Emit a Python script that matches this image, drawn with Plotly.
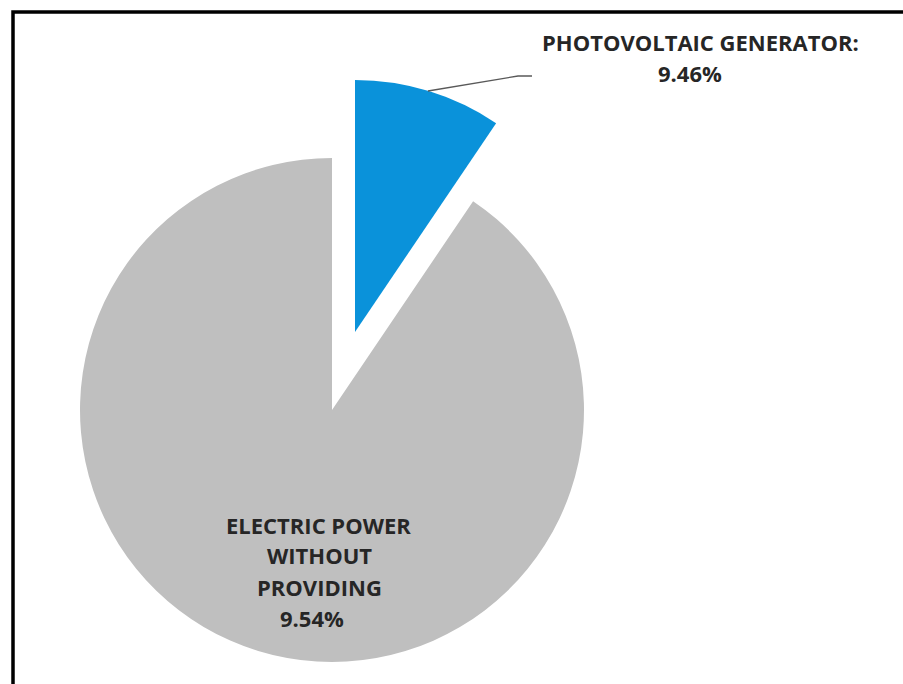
import plotly.graph_objects as go

W, H = 903, 684

labels = ["PHOTOVOLTAIC GENERATOR", "ELECTRIC POWER WITHOUT PROVIDING"]
values = [9.46, 90.54]
shown_pct = ["9.46%", "9.54%"]
colors = ["#0A92DA", "#BFBFBF"]

def px(x):
    return x / W

def py(y):
    return 1 - y / H

# gray pie centre (332,410), r 252 ; blue slice exploded to centre (355,332)
def dom(cx, cy, r):
    return dict(x=[px(cx - r), px(cx + r)], y=[py(cy + r), py(cy - r)])

fig = go.Figure()
fig.add_trace(go.Pie(
    labels=labels, values=values, sort=False, direction="clockwise", rotation=0,
    marker=dict(colors=["rgba(0,0,0,0)", colors[1]], line=dict(width=0)),
    textinfo="none", hoverinfo="label+value", showlegend=False,
    domain=dom(332, 410, 252),
))
fig.add_trace(go.Pie(
    labels=labels, values=values, sort=False, direction="clockwise", rotation=0,
    marker=dict(colors=[colors[0], "rgba(0,0,0,0)"], line=dict(width=0)),
    textinfo="none", hoverinfo="label+value", showlegend=False,
    domain=dom(355, 332, 252),
))

font = dict(family="Open Sans", size=22, color="#262626")
anns = [
    ("PHOTOVOLTAIC GENERATOR:", 700, 42),
    (shown_pct[0], 690, 73),
    ("ELECTRIC POWER", 318, 525),
    ("WITHOUT", 319, 555),
    ("PROVIDING", 319, 587),
    (shown_pct[1], 312, 618),
]
for t, x, y in anns:
    fig.add_annotation(text="<b>%s</b>" % t, x=px(x), y=py(y), xref="paper", yref="paper",
                       showarrow=False, xanchor="center", yanchor="middle", font=font)

shapes = [
    dict(type="path", xref="paper", yref="paper",
         path="M %f %f L %f %f L %f %f" % (px(428), py(91), px(518), py(76), px(532), py(76)),
         line=dict(color="#595959", width=1.3)),
    dict(type="rect", xref="paper", yref="paper",
         x0=px(13), y0=py(12), x1=px(960), y1=py(760),
         line=dict(color="black", width=3.5)),
]

fig.update_layout(
    width=W, height=H, margin=dict(l=0, r=0, t=0, b=0),
    paper_bgcolor="white", plot_bgcolor="white", shapes=shapes,
)
fig.write_html("out.html")
